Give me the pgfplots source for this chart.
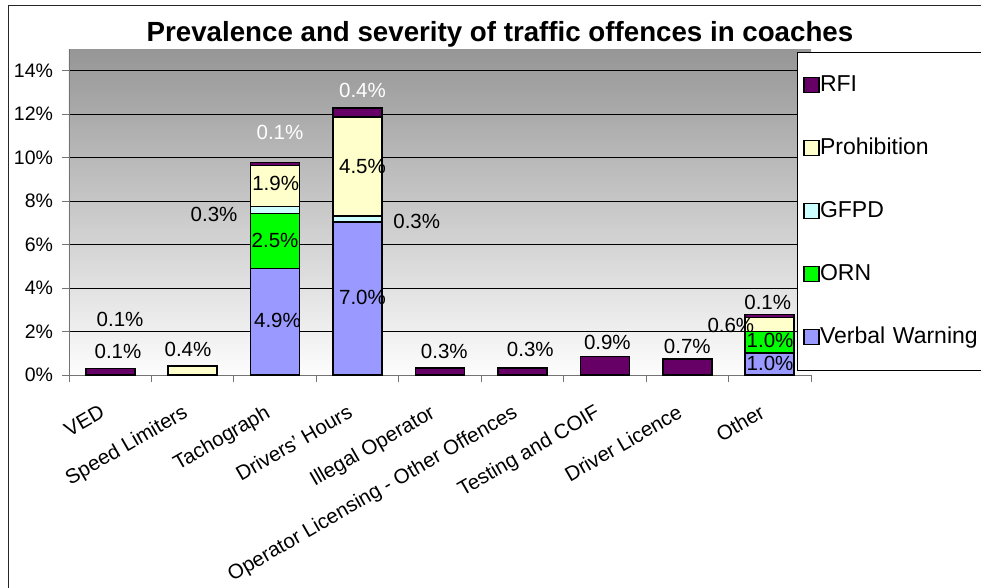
\documentclass[border=0pt]{standalone}
\usepackage{pgfplots}
\pgfplotsset{compat=1.18}
\usepackage{pgfplotstable}
\usepackage{fontspec}
\setmainfont{Liberation Sans}
\definecolor{cVW}{RGB}{153,153,255}
\definecolor{cORN}{RGB}{0,255,0}
\definecolor{cGFPD}{RGB}{204,255,255}
\definecolor{cPRO}{RGB}{255,255,204}
\definecolor{cRFI}{RGB}{102,0,102}
\definecolor{bgtop}{RGB}{150,150,150}
\definecolor{bgbot}{RGB}{253,253,253}

% category index, Verbal Warning, ORN, GFPD, Prohibition, RFI (percent)
\pgfplotstableread{
x vw orn gfpd proh rfi
0 0 0 0 0 0.30
1 0 0 0 0.42 0
2 4.90 2.54 0.32 1.88 0.14
3 7.04 0 0.28 4.54 0.42
4 0 0 0 0 0.32
5 0 0 0 0 0.32
6 0 0 0 0 0.86
7 0 0 0 0 0.74
8 1.02 0.98 0 0.64 0.14
}\datatable

% data labels: position (category, percent) and value shown
\pgfplotstableread{
x y v
0.119 2.577 0.1
0.094 1.072 0.1
0.943 1.196 0.4
2.029 2.531 4.9
1.999 6.180 2.5
1.259 7.409 0.3
2.007 8.836 1.9
3.060 3.590 7.0
3.718 7.087 0.3
3.060 9.572 4.5
4.052 1.072 0.3
5.096 1.196 0.3
6.030 1.505 0.9
7.000 1.302 0.7
7.975 3.346 0.1
7.528 2.269 0.6
8.003 1.611 1.0
8.003 0.538 1.0
}\labelsblack
\pgfplotstableread{
x y v
2.059 11.183 0.1
3.060 13.116 0.4
}\labelswhite

\begin{document}
\begin{tikzpicture}
\useasboundingbox (-69pt,-212pt) rectangle (912pt,375pt);
\fill[white] (-69pt,-212pt) rectangle (912pt,375pt);
\draw[black!85, line width=1pt] (-60pt,-220pt) -- (-60pt,369pt) -- (920pt,369pt);
\begin{axis}[
  at={(0pt,0pt)}, anchor=south west,
  scale only axis, width=742pt, height=326pt,
  xmin=-0.5, xmax=8.5, ymin=0, ymax=15,
  ybar stacked, bar width=49pt,
  axis x line*=bottom, axis y line*=left,
  axis line style={-, black!55, line width=0.9pt},
  axis background/.style={top color=bgtop, bottom color=bgbot},
  ymajorgrids, major grid style={black, line width=0.8pt},
  ytick={0,2,...,14},
  yticklabel={\pgfmathprintnumber{\tick}\%},
  /pgf/number format/assume math mode=true,
  yticklabel style={font=\fontsize{19.5}{23}\selectfont, xshift=-5.5pt},
  tick align=outside,
  major tick length=7pt,
  ytick style={black!55, line width=0.9pt},
  xtick={0,...,8},
  major x tick style={draw=none},
  minor xtick={-0.5,0.5,...,8.5},
  minor x tick style={black!55, line width=0.9pt},
  minor tick length=7pt,
  xticklabels={VED,Speed Limiters,Tachograph,Drivers' Hours,Illegal Operator,Operator Licensing - Other Offences,Testing and COIF,Driver Licence,Other},
  xticklabel style={font=\fontsize{20.5}{24}\selectfont, xshift=-10pt, yshift=-17pt, rotate=30, anchor=north east},
  every axis plot/.append style={draw=black, line width=1.6pt},
  reverse legend,
  legend cell align=left,
  legend image code/.code={\draw[#1, draw=black, line width=1.6pt] (0pt,-7pt) rectangle (15pt,8pt);},
  legend style={at={(0.98113,0.99080)}, anchor=north west, draw=black, line width=0.9pt, fill=white,
    font=\fontsize{23}{27}\selectfont, inner xsep=6pt, inner ysep=22pt, row sep=41pt, column sep=0pt,
    nodes={inner sep=0pt, text height=17pt, text depth=5pt, text width=175pt, align=left}},
]
\addplot[fill=cVW] table[x=x,y=vw]{\datatable};
\addplot[fill=cORN] table[x=x,y=orn]{\datatable};
\addplot[fill=cGFPD] table[x=x,y=gfpd]{\datatable};
\addplot[fill=cPRO] table[x=x,y=proh]{\datatable};
\addplot[fill=cRFI] table[x=x,y=rfi]{\datatable};
\legend{Verbal Warning,ORN,GFPD,Prohibition,RFI}
\end{axis}
\begin{axis}[
  at={(0pt,0pt)}, anchor=south west,
  scale only axis, width=742pt, height=326pt,
  xmin=-0.5, xmax=8.5, ymin=0, ymax=15,
  hide axis, clip=false,
  nodes near coords={\pgfmathprintnumber[fixed,fixed zerofill,precision=1,assume math mode=true]{\pgfplotspointmeta}\%},
  point meta=explicit,
  every node near coord/.append style={anchor=center, inner sep=0pt, font=\fontsize{20.5}{24}\selectfont},
]
\addplot[only marks, mark=*, mark size=0pt, mark options={draw=none, fill=none}] table[x=x,y=y,meta=v]{\labelsblack};
\addplot[only marks, mark=*, mark size=0pt, mark options={draw=none, fill=none},
  every node near coord/.append style={text=white}] table[x=x,y=y,meta=v]{\labelswhite};
\end{axis}
\node[anchor=base, font=\bfseries\fontsize{27.7}{32}\selectfont] at (431pt,333.3pt) {Prevalence and severity of traffic offences in coaches};
\end{tikzpicture}
\end{document}
